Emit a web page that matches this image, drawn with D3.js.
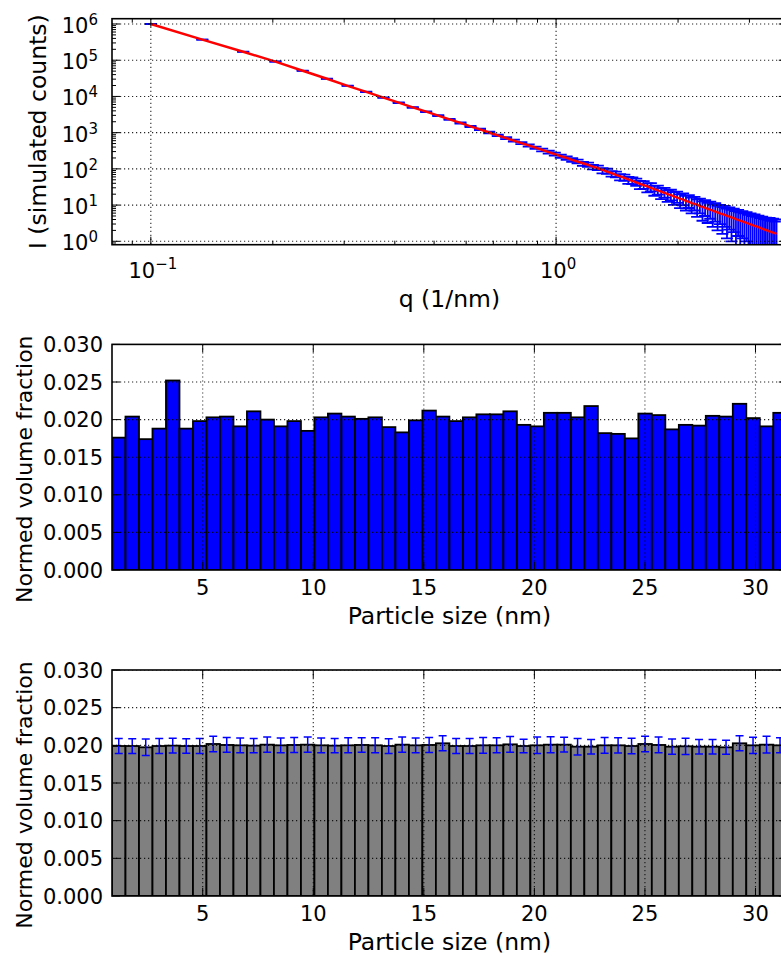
<!DOCTYPE html>
<html><head><meta charset="utf-8">
<script src="https://cdn.jsdelivr.net/npm/d3@7"></script>
<style>html,body{margin:0;padding:0;background:#fff;overflow:hidden}</style>
</head><body><svg id="c" width="781" height="956"></svg>
<script>
// ---------- data ----------
const qValues = [0.100,0.134,0.169,0.203,0.237,0.272,0.306,0.340,0.375,0.409,
0.443,0.478,0.512,0.546,0.581,0.615,0.649,0.684,0.718,0.753,
0.787,0.821,0.856,0.890,0.924,0.959,0.993,1.027,1.062,1.096,
1.130,1.165,1.199,1.233,1.268,1.302,1.336,1.371,1.405,1.439,
1.474,1.508,1.542,1.577,1.611,1.645,1.680,1.714,1.748,1.783,
1.817,1.852,1.886,1.920,1.955,1.989,2.023,2.058,2.092,2.126,
2.161,2.195,2.229,2.264,2.298,2.332,2.367,2.401,2.435,2.470,
2.504,2.538,2.573,2.607,2.641,2.676,2.710,2.744,2.779,2.813,
2.847,2.882,2.916,2.951,2.985,3.019,3.054,3.088,3.122,3.157,
3.191,3.225,3.260,3.294,3.328,3.363,3.397,3.431,3.466,3.500];
const fitIntensity = [1.00e6,3.71e5,1.71e5,9.18e4,5.12e4,3.08e4,1.97e4,1.33e4,9270,6710,
4980,3790,2940,2320,1850,1490,1230,1010,843,706,
601,516,444,384,333,290,256,225,200,177,
159,143,128,115,104,93.5,84.1,75.9,68.2,62.1,
56.4,51.3,46.6,42.4,38.8,35.6,32.7,30.0,27.5,25.5,
23.6,21.7,20.1,18.8,17.4,16.1,15.1,14.1,13.1,12.2,
11.4,10.8,10.1,9.46,8.93,8.37,7.91,7.48,7.00,6.62,
6.27,5.92,5.65,5.33,5.05,4.82,4.55,4.35,4.10,3.92,
3.74,3.53,3.37,3.22,3.07,2.93,2.79,2.67,2.57,2.45,
2.34,2.23,2.15,2.05,1.98,1.89,1.82,1.75,1.67,1.61];
const dataIntensity = [1.00e6,3.71e5,1.71e5,9.18e4,5.12e4,3.08e4,1.97e4,1.33e4,9270,6710,
4980,3790,2940,2320,1850,1490,1230,1010,843,706,
601,516,444,384,333,290,256,225,200,177,
162,139,131,113,108,90,87,74,71,60,
58,49,48,44,37,37,31,32,26,27,
22,23,19,20,16.5,17.5,14,15.5,12.5,13.5,
11,12,9.5,10.5,8.2,9.3,7.4,8.3,6.5,7.4,
5.8,6.6,5.2,6.0,4.6,5.4,4.2,4.9,3.8,4.4,
3.4,4.0,3.1,3.7,2.8,3.3,2.5,3.0,2.3,2.8,
2.1,2.6,1.9,2.4,1.8,2.3,1.7,2.2,1.6,2.1];
const dataError = [1500,914,620,454,339,263,211,173,144,123,
106,92,81,72,65,58,53,48,44,40,
37,34,32,29,27,26,24,22.5,21.2,20.0,
18.9,17.9,17.0,16.1,15.3,14.5,13.8,13.1,12.4,11.8,
11.3,10.7,10.2,9.8,9.3,8.9,8.6,8.2,7.9,7.6,
7.3,7.0,6.7,6.5,6.3,6.0,5.8,5.6,5.4,5.2,
5.1,4.9,4.8,4.6,4.5,4.3,4.2,4.1,4.0,3.9,
3.8,3.6,3.6,3.5,3.4,3.3,3.2,3.1,3.0,3.0,
2.9,2.8,2.8,2.7,2.6,2.6,2.5,2.5,2.4,2.3,
2.3,2.2,2.2,2.1,2.1,2.1,2.0,2.0,1.9,1.9];

const sizeCenters = [1.203,1.813,2.424,3.034,3.644,4.255,4.865,5.475,6.086,6.696,
7.306,7.917,8.527,9.137,9.748,10.358,10.968,11.579,12.189,12.799,
13.410,14.020,14.631,15.241,15.851,16.462,17.072,17.682,18.293,18.903,
19.513,20.124,20.734,21.344,21.955,22.565,23.176,23.786,24.396,25.007,
25.617,26.227,26.838,27.448,28.058,28.669,29.279,29.889,30.500,31.110];
const binWidth = 0.6104;
const inputFraction = [0.0176,0.0204,0.0174,0.0188,0.0252,0.0188,0.0198,0.0203,0.0204,0.0191,
0.0211,0.0200,0.0191,0.0198,0.0185,0.0203,0.0208,0.0204,0.0201,0.0203,
0.0190,0.0183,0.0199,0.0212,0.0204,0.0198,0.0203,0.0207,0.0207,0.0211,
0.0193,0.0191,0.0209,0.0209,0.0203,0.0218,0.0182,0.0181,0.0175,0.0208,
0.0206,0.0187,0.0193,0.0192,0.0205,0.0204,0.0221,0.0202,0.0191,0.0209];
const resultFraction = [0.01991,0.01991,0.01974,0.01991,0.01996,0.01991,0.01991,0.02018,0.02005,0.02000,
0.01996,0.02009,0.02000,0.02005,0.02009,0.02000,0.01996,0.02000,0.02005,0.02000,
0.01991,0.02009,0.02000,0.02005,0.02027,0.01991,0.01991,0.02000,0.02000,0.02013,
0.01991,0.02000,0.02009,0.02009,0.01982,0.01982,0.02000,0.02000,0.01991,0.02018,
0.02005,0.01982,0.01987,0.01982,0.01982,0.01974,0.02027,0.02000,0.02009,0.02000];
const resultError = [0.00100,0.00098,0.00110,0.00100,0.00098,0.00097,0.00100,0.00102,0.00098,0.00097,
0.00095,0.00102,0.00097,0.00100,0.00102,0.00098,0.00095,0.00100,0.00097,0.00100,
0.00098,0.00102,0.00097,0.00100,0.00100,0.00099,0.00099,0.00104,0.00100,0.00104,
0.00091,0.00110,0.00106,0.00097,0.00109,0.00097,0.00104,0.00102,0.00102,0.00102,
0.00104,0.00102,0.00108,0.00097,0.00097,0.00093,0.00100,0.00108,0.00110,0.00100];

const qTicks = [0.1, 1];
const qTickExponents = ["−1", "0"];
const intensityTicks = [1, 10, 100, 1000, 1e4, 1e5, 1e6];
const intensityTickExponents = ["0","1","2","3","4","5","6"];
const sizeTicks = [5, 10, 15, 20, 25, 30];
const fractionTicks = [0, 0.005, 0.010, 0.015, 0.020, 0.025, 0.030];

// ---------- layout ----------
const svg = d3.select("#c");
const FONT = "DejaVu Sans";
const FS = 21;      // tick labels
const LFS = 23.5;   // axis labels
const L = 112, R = 786.8;
const panels = {
  top: {t: 18.7, b: 244.7},
  mid: {t: 344.4, b: 570},
  bot: {t: 670, b: 896}
};

function clip(id, p) {
  svg.append("clipPath").attr("id", id).append("rect")
    .attr("x", L).attr("y", p.t).attr("width", R - L).attr("height", p.b - p.t);
}
clip("clipTop", panels.top); clip("clipMid", panels.mid); clip("clipBot", panels.bot);

function frame(p) {
  svg.append("rect").attr("x", L).attr("y", p.t).attr("width", R - L).attr("height", p.b - p.t)
    .attr("fill", "none").attr("stroke", "#000").attr("stroke-width", 1.6);
}
function hgrid(g, ys) {
  g.selectAll(null).data(ys).enter().append("line")
    .attr("x1", L).attr("x2", R).attr("y1", d => d).attr("y2", d => d)
    .attr("stroke", "#000").attr("stroke-width", 1.1).attr("stroke-dasharray", "1.2,2.8").attr("opacity", 0.85);
}
function vgrid(g, xs, p) {
  g.selectAll(null).data(xs).enter().append("line")
    .attr("y1", p.t).attr("y2", p.b).attr("x1", d => d).attr("x2", d => d)
    .attr("stroke", "#000").attr("stroke-width", 1.1).attr("stroke-dasharray", "1.2,2.8").attr("opacity", 0.85);
}
function ticksY(ys, p, len) {
  ys.forEach(y => {
    svg.append("line").attr("x1", L).attr("x2", L + len).attr("y1", y).attr("y2", y).attr("stroke", "#000").attr("stroke-width", 1);
    svg.append("line").attr("x1", R).attr("x2", R - len).attr("y1", y).attr("y2", y).attr("stroke", "#000").attr("stroke-width", 1);
  });
}
function ticksX(xs, p, len) {
  xs.forEach(x => {
    svg.append("line").attr("x1", x).attr("x2", x).attr("y1", p.b).attr("y2", p.b - len).attr("stroke", "#000").attr("stroke-width", 1);
    svg.append("line").attr("x1", x).attr("x2", x).attr("y1", p.t).attr("y2", p.t + len).attr("stroke", "#000").attr("stroke-width", 1);
  });
}

// ---------- top panel: I(q) ----------
const pT = panels.top;
const xQ = d3.scaleLog().domain([0.0802, 3.71]).range([L, R]);
const yI = d3.scaleLog().domain([0.806, 1.4e6]).range([pT.b, pT.t]);

const gTop = svg.append("g").attr("clip-path", "url(#clipTop)");
const capT = 6;
qValues.forEach((q, i) => {
  const x = xQ(q);
  const hi = dataIntensity[i] + dataError[i];
  const lo = dataIntensity[i] - dataError[i];
  const yHi = yI(hi);
  const yLo = lo > 0 ? yI(lo) : pT.b + 20;
  gTop.append("line").attr("x1", x).attr("x2", x).attr("y1", yHi).attr("y2", yLo)
    .attr("stroke", "#0000ff").attr("stroke-width", 1.8);
  gTop.append("line").attr("x1", x - capT).attr("x2", x + capT).attr("y1", yHi).attr("y2", yHi)
    .attr("stroke", "#0000ff").attr("stroke-width", 1.8);
  if (lo > 0) gTop.append("line").attr("x1", x - capT).attr("x2", x + capT).attr("y1", yLo).attr("y2", yLo)
    .attr("stroke", "#0000ff").attr("stroke-width", 1.8);
});
const fitLine = d3.line().x((d, i) => xQ(qValues[i])).y(d => yI(d));
gTop.append("path").datum(fitIntensity).attr("d", fitLine).attr("fill", "none")
  .attr("stroke", "#ff0000").attr("stroke-width", 2.4);

const gridTop = svg.append("g").attr("clip-path", "url(#clipTop)");
hgrid(gridTop, intensityTicks.map(v => yI(v)));
vgrid(gridTop, qTicks.map(v => xQ(v)), pT);

// minor ticks
const minorQ = [];
[0.01, 0.1, 1].forEach(d => { for (let k = 2; k <= 9; k++) minorQ.push(d * k); });
const minorQin = minorQ.filter(v => v >= 0.0802 && v <= 3.71);
const minorI = [];
[0.1, 1, 10, 100, 1000, 1e4, 1e5, 1e6].forEach(d => { for (let k = 2; k <= 9; k++) minorI.push(d * k); });
const minorIin = minorI.filter(v => v >= 0.806 && v <= 1.4e6);
ticksX(minorQin.map(v => xQ(v)), pT, 4);
ticksY(minorIin.map(v => yI(v)), pT, 4);
ticksX(qTicks.map(v => xQ(v)), pT, 8);
ticksY(intensityTicks.map(v => yI(v)), pT, 8);
frame(pT);

// tick labels (mathtext style 10^n)
intensityTicks.forEach((v, i) => {
  const t = svg.append("text").attr("x", 98).attr("y", yI(v) + 9)
    .attr("text-anchor", "end").attr("font-family", FONT).attr("font-size", FS).attr("fill", "#000");
  t.append("tspan").text("10");
  t.append("tspan").attr("dy", -8).attr("font-size", 15).text(intensityTickExponents[i]);
});
qTicks.forEach((v, i) => {
  const t = svg.append("text").attr("x", xQ(v) + 2).attr("y", 278)
    .attr("text-anchor", "middle").attr("font-family", FONT).attr("font-size", FS).attr("fill", "#000");
  t.append("tspan").text("10");
  t.append("tspan").attr("dy", -9).attr("font-size", 15).text(qTickExponents[i]);
});
svg.append("text").attr("x", (L + R) / 2).attr("y", 307).attr("text-anchor", "middle")
  .attr("font-family", FONT).attr("font-size", LFS).text("q (1/nm)");
svg.append("text").attr("transform", `translate(46,${(pT.t + pT.b) / 2}) rotate(-90)`)
  .attr("text-anchor", "middle").attr("font-family", FONT).attr("font-size", LFS).text("I (simulated counts)");

// ---------- histogram panels ----------
function histPanel(p, values, errors, fill, clipId) {
  const x = d3.scaleLinear().domain([0.8976, 31.416]).range([L, R]);
  const y = d3.scaleLinear().domain([0, 0.030]).range([p.b, p.t]);
  const g = svg.append("g").attr("clip-path", `url(#${clipId})`);
  g.selectAll(null).data(values).enter().append("rect")
    .attr("x", (d, i) => x(sizeCenters[i] - binWidth / 2))
    .attr("width", (d, i) => x(sizeCenters[i] + binWidth / 2) - x(sizeCenters[i] - binWidth / 2))
    .attr("y", d => y(d)).attr("height", d => y(0) - y(d))
    .attr("fill", fill).attr("stroke", "#000").attr("stroke-width", 1.8);
  if (errors) {
    const cap = 4;
    values.forEach((v, i) => {
      const cx = x(sizeCenters[i]);
      const y1 = y(v + errors[i]), y2 = y(v - errors[i]);
      g.append("line").attr("x1", cx).attr("x2", cx).attr("y1", y1).attr("y2", y2).attr("stroke", "#0000ff").attr("stroke-width", 1.5);
      g.append("line").attr("x1", cx - cap).attr("x2", cx + cap).attr("y1", y1).attr("y2", y1).attr("stroke", "#0000ff").attr("stroke-width", 1.5);
      g.append("line").attr("x1", cx - cap).attr("x2", cx + cap).attr("y1", y2).attr("y2", y2).attr("stroke", "#0000ff").attr("stroke-width", 1.5);
    });
  }
  const gg = svg.append("g").attr("clip-path", `url(#${clipId})`);
  hgrid(gg, fractionTicks.map(v => y(v)));
  vgrid(gg, sizeTicks.map(v => x(v)), p);
  ticksY(fractionTicks.map(v => y(v)), p, 8);
  ticksX(sizeTicks.map(v => x(v)), p, 8);
  frame(p);
  fractionTicks.forEach(v => {
    svg.append("text").attr("x", 103).attr("y", y(v) + 7.6).attr("text-anchor", "end")
      .attr("font-family", FONT).attr("font-size", FS).text(d3.format(".3f")(v));
  });
  sizeTicks.forEach(v => {
    svg.append("text").attr("x", x(v)).attr("y", p.b + 25).attr("text-anchor", "middle")
      .attr("font-family", FONT).attr("font-size", FS).text(v);
  });
  svg.append("text").attr("x", (L + R) / 2).attr("y", p.b + 54).attr("text-anchor", "middle")
    .attr("font-family", FONT).attr("font-size", LFS).text("Particle size (nm)");
  svg.append("text").attr("transform", `translate(32,${(p.t + p.b) / 2 + 12}) rotate(-90)`)
    .attr("text-anchor", "middle").attr("font-family", FONT).attr("font-size", 22).text("Normed volume fraction");
}
histPanel(panels.mid, inputFraction, null, "#0000ff", "clipMid");
histPanel(panels.bot, resultFraction, resultError, "#808080", "clipBot");
</script></body></html>
